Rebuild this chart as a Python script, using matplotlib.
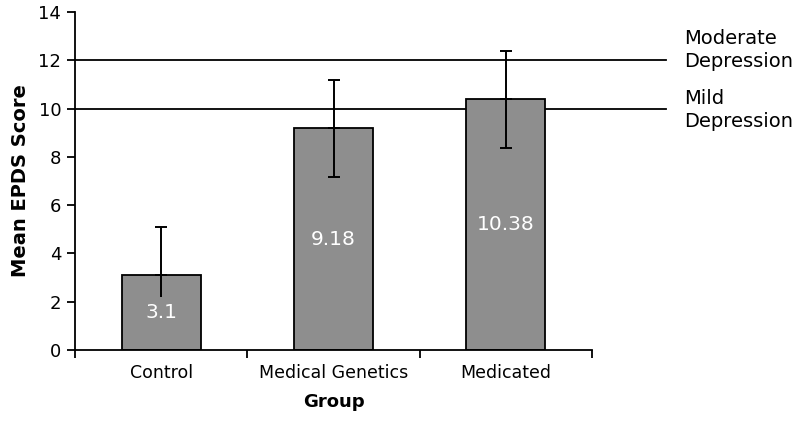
import matplotlib.pyplot as plt

groups = ["Control", "Medical Genetics", "Medicated"]
means = [3.1, 9.18, 10.38]
err_low = [0.9, 2.0, 2.03]
err_high = [1.98, 2.0, 2.0]
thresholds = [12, 10]
threshold_labels = ["Moderate\nDepression", "Mild\nDepression"]
label_y = [12.43, 9.94]

plt.rcParams['font.family'] = ['DejaVu Sans']

fig = plt.figure(figsize=(8, 4.3), dpi=100)
ax = fig.add_axes([0.094, 0.186, 0.646, 0.786])

x = list(range(len(groups)))
ax.bar(x, means, width=0.46, color="#8e8e8e", edgecolor="black", linewidth=1.3, zorder=2)

# upper error bars (with caps)
ax.errorbar(x, means, yerr=[[0] * 3, err_high], fmt="none", ecolor="black",
            elinewidth=1.4, capsize=4.5, capthick=1.4, zorder=3)
# lower error bars, the Control one has no cap
ax.errorbar(x[1:], means[1:], yerr=[err_low[1:], [0, 0]], fmt="none", ecolor="black",
            elinewidth=1.4, capsize=4.5, capthick=1.4, zorder=3)
ax.errorbar(x[:1], means[:1], yerr=[err_low[:1], [0]], fmt="none", ecolor="black",
            elinewidth=1.4, capsize=0, zorder=3)

for xi, m in zip(x, means):
    ax.text(xi, m / 2, str(m), color="white", ha="center", va="center", fontsize=14.5, zorder=4)

trans = ax.get_yaxis_transform()
for t, lab, ly in zip(thresholds, threshold_labels, label_y):
    ax.plot([0, 1.143], [t, t], color="black", linewidth=1.3, transform=trans, clip_on=False, zorder=1)
    ax.text(1.178, ly, lab, transform=trans, ha="left", va="center", fontsize=14, linespacing=1.3)

ax.set_xlim(-0.5, 2.5)
ax.set_ylim(0, 14)
ax.set_yticks(range(0, 15, 2))
ax.set_xticks([-0.5, 0.5, 1.5, 2.5], minor=False)
ax.set_xticklabels([])
ax.set_xticks(x, minor=True)
ax.set_xticklabels(groups, minor=True, fontsize=12.5)
ax.tick_params(axis="x", which="minor", length=0, pad=10)
ax.tick_params(axis="x", which="major", length=6, width=1.3, direction="out")
ax.tick_params(axis="y", length=6, width=1.3, labelsize=13, pad=4)

for s in ["top", "right"]:
    ax.spines[s].set_visible(False)
for s in ["left", "bottom"]:
    ax.spines[s].set_linewidth(1.3)

ax.set_xlabel("Group", fontsize=13, fontweight="bold", labelpad=8)
ax.set_ylabel("Mean EPDS Score", fontsize=14, fontweight="bold", labelpad=6)

fig.savefig("out.png", dpi=100)
